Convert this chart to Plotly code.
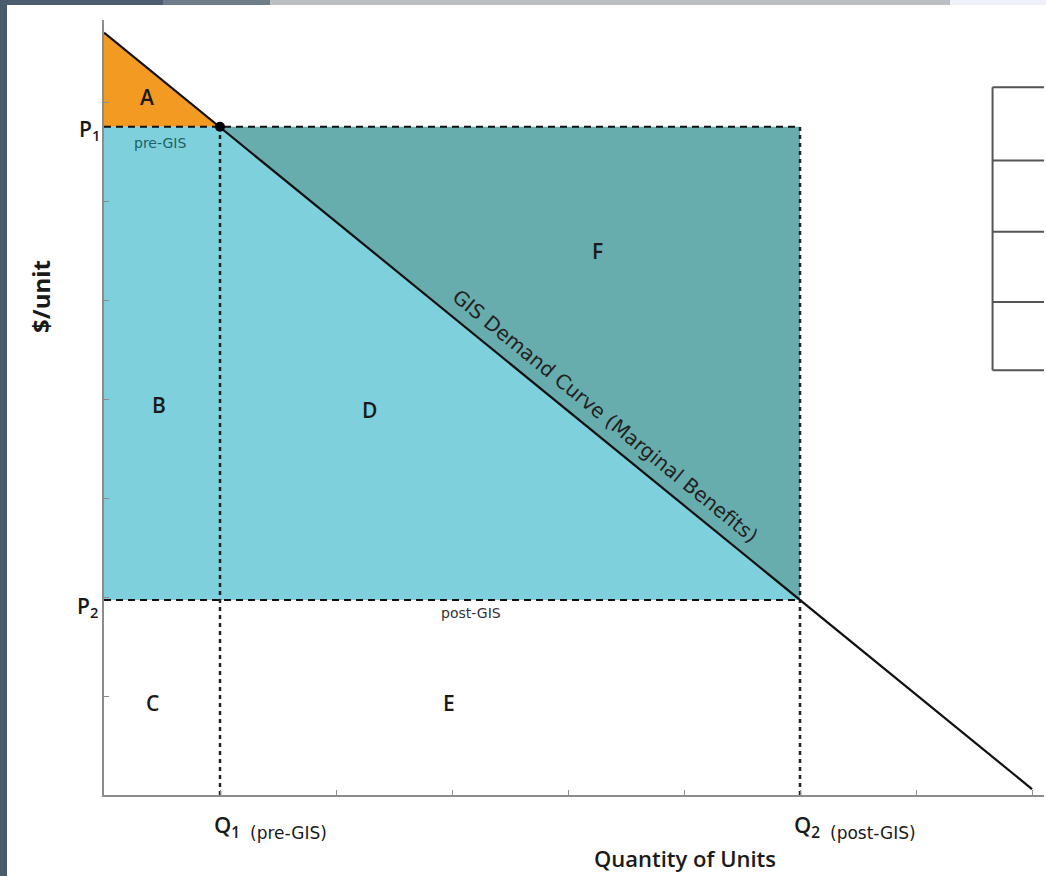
import plotly.graph_objects as go

# demand curve (marginal benefits)
demand_q = [0, 8.0]
demand_p = [7.7, 0.06]

q1, q2 = 1, 6          # pre-GIS / post-GIS quantity
p1, p2 = 6.75, 1.97    # pre-GIS / post-GIS price

x_ticks = [1, 2, 3, 4, 5, 6, 7, 8]
y_ticks = [1, 2, 3, 4, 5, 6, 7]

area_names = ["A", "B", "C", "D", "E", "F"]
area_x = [0.37, 0.47, 0.42, 2.29, 2.97, 4.25]
area_y = [7.05, 3.94, 0.93, 3.89, 0.93, 5.5]

# rows of the half-hidden table on the right
table_x0 = 7.66
table_rows = [7.15, 6.41, 5.69, 4.98, 4.29]

ORANGE = "#f39a22"
CYAN = "#7ed1dc"
TEAL = "#68adad"

W, H = 1046, 876
L, R, T, B = 104, 2, 20, 81
pw, ph = W - L - R, H - T - B


def px2paper(px, py):
    return (px - L) / pw, (H - B - py) / ph


fig = go.Figure()

# area A
fig.add_trace(go.Scatter(x=[demand_q[0], 0, q1, demand_q[0]], y=[demand_p[0], p1, p1, demand_p[0]],
                         fill="toself", fillcolor=ORANGE, mode="none", hoverinfo="skip"))
# areas B + D
fig.add_trace(go.Scatter(x=[0, q1, q2, 0, 0], y=[p1, p1, p2, p2, p1],
                         fill="toself", fillcolor=CYAN, mode="none", hoverinfo="skip"))
# area F
fig.add_trace(go.Scatter(x=[q1, q2, q2, q1], y=[p1, p1, p2, p1],
                         fill="toself", fillcolor=TEAL, mode="none", hoverinfo="skip"))

# dashed guides
for pp in [p1, p2]:
    fig.add_trace(go.Scatter(x=[0, q2], y=[pp, pp], mode="lines",
                             line=dict(color="#111", width=2, dash="7px,5px"), hoverinfo="skip"))
for qq in [q1, q2]:
    fig.add_trace(go.Scatter(x=[qq, qq], y=[0, p1], mode="lines",
                             line=dict(color="#222", width=2.5, dash="4px,4px"), hoverinfo="skip"))

# demand curve
fig.add_trace(go.Scatter(x=demand_q, y=demand_p, mode="lines",
                         line=dict(color="#111", width=2.2), hoverinfo="skip"))
fig.add_trace(go.Scatter(x=[q1], y=[p1], mode="markers",
                         marker=dict(color="#000", size=10), hoverinfo="skip"))

font = "Open Sans"
small = "DejaVu Sans"
ann = []
for name, ax, ay in zip(area_names, area_x, area_y):
    ann.append(dict(x=ax, y=ay, text=name, showarrow=False,
                    font=dict(family=font, size=21, color="#1a1a1a", weight=600)))
ann.append(dict(x=0.48, y=6.59, text="pre-GIS", showarrow=False,
                font=dict(family=small, size=14, color="#1f6066")))
ann.append(dict(x=3.16, y=1.84, text="post-GIS", showarrow=False,
                font=dict(family=small, size=14, color="#333")))
ann.append(dict(x=4.32, y=3.83, text="GIS Demand Curve (Marginal Benefits)", showarrow=False,
                textangle=39.2, font=dict(family=small, size=20, color="#222")))
ann.append(dict(x=0, y=p1, xanchor="right", xshift=-2, yshift=-3, text="P<sub>1</sub>",
                showarrow=False, font=dict(family=font, size=21, color="#1a1a1a", weight=600)))
ann.append(dict(x=0, y=p2, xanchor="right", xshift=-4, yshift=-7, text="P<sub>2</sub>",
                showarrow=False, font=dict(family=font, size=21, color="#1a1a1a", weight=600)))
for qq, num, tag in [(q1, "1", "(pre-GIS)"), (q2, "2", "(post-GIS)")]:
    ann.append(dict(x=qq, y=0, xanchor="left", yanchor="top", xshift=-8, yshift=-12,
                    text="Q<sub>" + num + "</sub>", showarrow=False,
                    font=dict(family=font, size=22, color="#1a1a1a", weight=600)))
    ann.append(dict(x=qq, y=0, xanchor="left", yanchor="top", xshift=28, yshift=-26,
                    text=tag, showarrow=False,
                    font=dict(family=small, size=17, color="#1a1a1a")))
xp, yp = px2paper(685, 858)
ann.append(dict(x=xp, y=yp, xref="paper", yref="paper", xanchor="center", yanchor="middle",
                text="Quantity of Units", showarrow=False,
                font=dict(family=font, size=22, color="#1a1a1a", weight=600)))
xp, yp = px2paper(40, 297)
ann.append(dict(x=xp, y=yp, xref="paper", yref="paper", xanchor="center", yanchor="middle",
                text="$/unit", textangle=-90, showarrow=False,
                font=dict(family=font, size=24, color="#1a1a1a", weight=700)))

shapes = []
# table fragment
shapes.append(dict(type="line", x0=table_x0, x1=table_x0, y0=table_rows[-1], y1=table_rows[0],
                   line=dict(color="#555", width=2)))
for r in table_rows:
    shapes.append(dict(type="line", x0=table_x0, x1=8.4, y0=r, y1=r, line=dict(color="#555", width=2)))


# screenshot frame
def rect(px0, py0, px1, py1, color):
    x0, y0 = px2paper(px0, py0)
    x1, y1 = px2paper(px1, py1)
    return dict(type="rect", xref="paper", yref="paper", x0=x0, y0=y0, x1=x1, y1=y1,
                fillcolor=color, line=dict(width=0), layer="above")


shapes.append(rect(0, 0, 7, H, "#4a5b6b"))
shapes.append(rect(0, 0, 163, 5, "#4c5d70"))
shapes.append(rect(163, 0, 270, 5, "#6f7c89"))
shapes.append(rect(270, 0, 950, 5, "#bcbfc2"))
shapes.append(rect(950, 0, W, 5, "#eef2f8"))

fig.update_layout(
    width=W, height=H, margin=dict(l=L, r=R, t=T, b=B),
    plot_bgcolor="white", paper_bgcolor="white", showlegend=False,
    annotations=ann, shapes=shapes,
    xaxis=dict(range=[0, pw / 116], showgrid=False, zeroline=False, showline=True,
               linecolor="#8c8c8c", linewidth=2, ticks="inside", ticklen=5, tickcolor="#8c8c8c",
               tickvals=x_ticks, showticklabels=False, fixedrange=True),
    yaxis=dict(range=[0, ph / 99], showgrid=False, zeroline=False, showline=True,
               linecolor="#8c8c8c", linewidth=2, ticks="inside", ticklen=5, tickcolor="#8c8c8c",
               tickvals=y_ticks, showticklabels=False, fixedrange=True),
)

# page has a default body margin; drop it so the figure sits at 0,0
fig.write_html("out.html", config={"displayModeBar": False},
               post_script="document.body.style.margin='0px';")
